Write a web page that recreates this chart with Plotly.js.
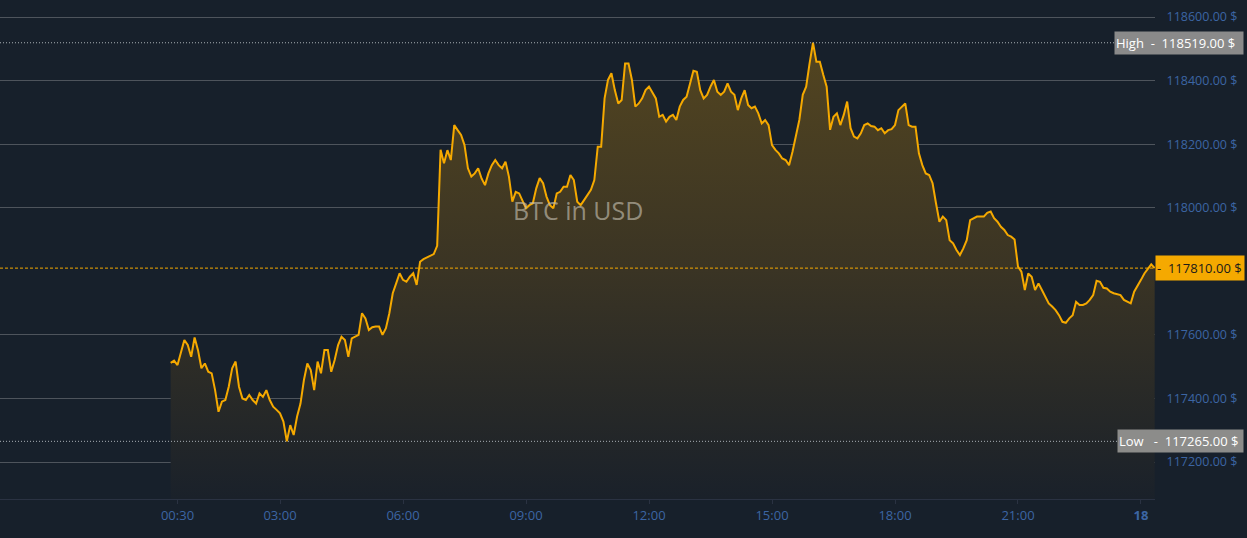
<!DOCTYPE html>
<html>
<head>
<meta charset="utf-8">
<script src="https://cdn.plot.ly/plotly-3.0.1.min.js"></script>
<style>
html,body{margin:0;padding:0;background:#17202b;}
#chart{width:1247px;height:538px;}
</style>
</head>
<body>
<div id="chart"></div>
<script>
// Sampling: one price every 5 minutes, from 17 Jul 2025 00:20 to 18 Jul 2025 00:20
const startTime = "2025-07-17T00:20:00";
const stepMinutes = 5;

// BTC price in USD
const prices = [
 117512,117519,117505,117542,117584,117568,117531,117592,117552,117495,
 117510,117484,117479,117426,117358,117390,117395,117437,117495,117516,
 117437,117400,117395,117411,117395,117384,117416,117405,117426,117395,
 117374,117364,117353,117327,117265,117316,117285,117343,117384,117458,
 117510,117489,117426,117516,117479,117552,117552,117484,117521,117568,
 117594,117584,117531,117589,117594,117600,117668,117652,117615,117624,
 117626,117626,117600,117621,117668,117731,117762,117794,117773,117767,
 117783,117794,117757,117830,117838,117844,117848,117854,117880,118182,
 118140,118181,118150,118260,118244,118229,118197,118124,118098,118108,
 118124,118092,118071,118108,118134,118150,118134,118124,118145,118098,
 118019,118050,118045,118019,117998,118008,118014,118061,118093,118077,
 118035,118008,117998,118045,118050,118066,118066,118103,118087,118019,
 118008,118024,118040,118056,118087,118192,118192,118344,118402,118423,
 118370,118328,118339,118454,118454,118402,118318,118328,118344,118370,
 118381,118360,118344,118286,118292,118271,118286,118292,118276,118318,
 118339,118349,118391,118431,118428,118370,118344,118355,118381,118402,
 118365,118355,118365,118391,118365,118355,118307,118344,118370,118323,
 118313,118318,118297,118265,118276,118260,118197,118182,118171,118155,
 118150,118134,118176,118224,118276,118355,118381,118454,118519,118459,
 118459,118418,118381,118245,118286,118297,118260,118292,118334,118250,
 118224,118218,118234,118260,118265,118257,118255,118244,118250,118234,
 118244,118247,118260,118307,118318,118328,118260,118255,118255,118171,
 118134,118108,118103,118077,118014,117956,117972,117961,117898,117888,
 117867,117851,117872,117898,117961,117967,117972,117972,117972,117984,
 117988,117967,117956,117940,117930,117914,117909,117900,117815,117799,
 117741,117793,117783,117741,117762,117741,117720,117699,117689,117678,
 117662,117641,117638,117652,117662,117704,117694,117694,117699,117710,
 117725,117770,117767,117748,117746,117736,117731,117728,117725,117710,
 117704,117699,117736,117757,117773,117793,117809,117822,117810
];

const yTickVals = [117200,117400,117600,118000,118200,118400,118600];
const xTickVals = ["2025-07-17 00:30","2025-07-17 03:00","2025-07-17 06:00","2025-07-17 09:00",
  "2025-07-17 12:00","2025-07-17 15:00","2025-07-17 18:00","2025-07-17 21:00","2025-07-18 00:00"];
const xTickText = ["00:30","03:00","06:00","09:00","12:00","15:00","18:00","21:00","<b>18</b>"];
const chartTitle = "BTC in USD";

const t0 = new Date(startTime + "Z").getTime();
const pad = n => String(n).padStart(2, "0");
const times = prices.map((_, i) => {
  const d = new Date(t0 + i * stepMinutes * 60000);
  return d.getUTCFullYear() + "-" + pad(d.getUTCMonth() + 1) + "-" + pad(d.getUTCDate()) + " " +
         pad(d.getUTCHours()) + ":" + pad(d.getUTCMinutes());
});
const high = Math.max(...prices);
const low = Math.min(...prices);
const last = prices[prices.length - 1];
const fmt = v => v.toFixed(2) + " $";

const yMin = 117083.6, yMax = 118653.5;

const trace = {
  x: times, y: prices, type: "scatter", mode: "lines",
  line: {color: "#f5a900", width: 2},
  fill: "tozeroy",
  fillgradient: {
    type: "vertical",
    start: yMin, stop: high,
    colorscale: [[0, "rgb(26,33,42)"], [0.5, "rgb(58,52,36)"], [1, "rgb(83,69,32)"]]
  },
  hoverinfo: "skip"
};

const layout = {
  width: 1247, height: 538,
  margin: {l: 0, r: 92, t: 0, b: 39},
  paper_bgcolor: "#17202b", plot_bgcolor: "#17202b",
  font: {family: "Open Sans, sans-serif", size: 13, color: "#3c65a3"},
  showlegend: false,
  xaxis: {
    type: "date",
    range: ["2025-07-16 20:10:14", "2025-07-18 00:20:30"],
    tickvals: xTickVals, ticktext: xTickText,
    showgrid: false, zeroline: false,
    showline: true, linecolor: "#2a3242", linewidth: 1,
    ticks: "outside", ticklen: 4, tickcolor: "#2a3242",
    tickfont: {size: 13, color: "#3c65a3"}
  },
  yaxis: {
    side: "right", range: [yMin, yMax],
    tickvals: yTickVals, ticktext: yTickVals.map(fmt),
    showgrid: true, gridcolor: "#4e545c", gridwidth: 1,
    zeroline: false, showline: false,
    ticks: "outside", ticklen: 8, tickcolor: "rgba(0,0,0,0)",
    tickfont: {size: 12.5, color: "#3c65a3"}
  },
  shapes: [
    {type: "line", xref: "paper", x0: 0, x1: 1, yref: "y", y0: high, y1: high,
     line: {color: "#a9afb5", width: 1, dash: "1px,2px"}},
    {type: "line", xref: "paper", x0: 0, x1: 1, yref: "y", y0: low, y1: low,
     line: {color: "#a9afb5", width: 1, dash: "1px,2px"}},
    {type: "line", xref: "paper", x0: 0, x1: 1, yref: "y", y0: last, y1: last,
     line: {color: "#f5a900", width: 1, dash: "3px,2px"}}
  ],
  annotations: [
    {xref: "paper", yref: "paper", x: 0.5, y: 0.58, xanchor: "center", yanchor: "middle",
     text: chartTitle, showarrow: false,
     font: {size: 25, color: "rgba(195,190,175,0.65)", family: "Open Sans, sans-serif"}},
    {xref: "paper", yref: "y", x: 1, y: high, xanchor: "left", yanchor: "middle", xshift: -41,
     text: "High&nbsp;&nbsp;-&nbsp;&nbsp;" + fmt(high), showarrow: false,
     bgcolor: "#8a8a8a", font: {size: 13, color: "#ffffff"},
     width: 126, height: 20, align: "left", borderpad: 1},
    {xref: "paper", yref: "y", x: 1, y: low, xanchor: "left", yanchor: "middle", xshift: -38,
     text: "Low&nbsp;&nbsp;&nbsp;-&nbsp;&nbsp;" + fmt(low), showarrow: false,
     bgcolor: "#8c8c8a", font: {size: 13, color: "#ffffff"},
     width: 123, height: 20, align: "left", borderpad: 1},
    {xref: "paper", yref: "y", x: 1, y: last, xanchor: "left", yanchor: "middle", xshift: 0,
     text: "-&nbsp;&nbsp;" + fmt(last), showarrow: false,
     bgcolor: "#f5a900", font: {size: 13, color: "#1a1a1a"},
     width: 86, height: 22, align: "left", borderpad: 1}
  ]
};

Plotly.newPlot("chart", [trace], layout, {displayModeBar: false, staticPlot: true});
</script>
</body>
</html>
